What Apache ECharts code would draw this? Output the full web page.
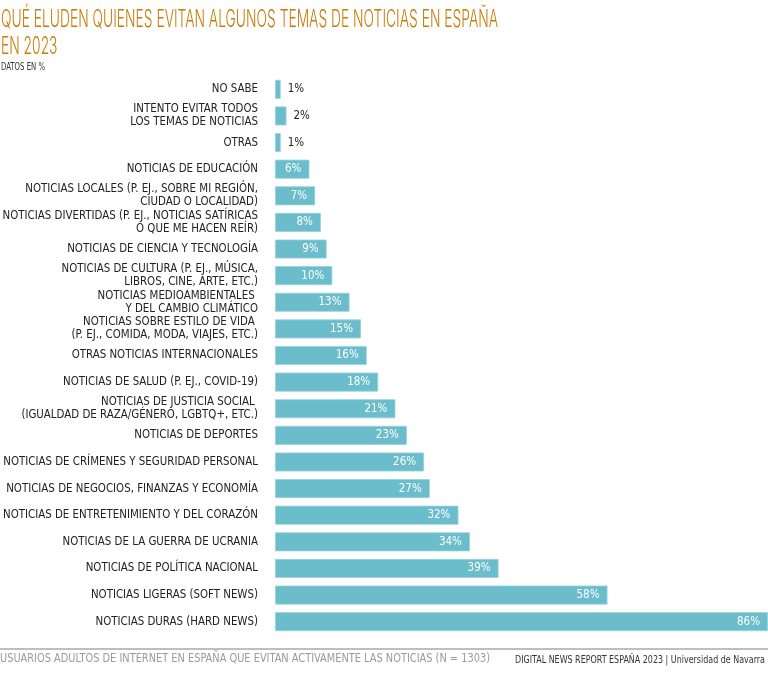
<!DOCTYPE html>
<html><head><meta charset="utf-8">
<script src="https://cdn.jsdelivr.net/npm/echarts@6/dist/echarts.min.js"></script>
<style>html,body{margin:0;padding:0;background:#fff}#c{width:768px;height:676px}</style>
</head><body><div id="c"></div>
<script>
var categories = [
  "NO SABE",
  "INTENTO EVITAR TODOS\nLOS TEMAS DE NOTICIAS",
  "OTRAS",
  "NOTICIAS DE EDUCACIÓN",
  "NOTICIAS LOCALES (P. EJ., SOBRE MI REGIÓN,\nCIUDAD O LOCALIDAD)",
  "NOTICIAS DIVERTIDAS (P. EJ., NOTICIAS SATÍRICAS\nO QUE ME HACEN REÍR)",
  "NOTICIAS DE CIENCIA Y TECNOLOGÍA",
  "NOTICIAS DE CULTURA (P. EJ., MÚSICA,\nLIBROS, CINE, ARTE, ETC.)",
  "NOTICIAS MEDIOAMBIENTALES \nY DEL CAMBIO CLIMÁTICO",
  "NOTICIAS SOBRE ESTILO DE VIDA \n(P. EJ., COMIDA, MODA, VIAJES, ETC.)",
  "OTRAS NOTICIAS INTERNACIONALES",
  "NOTICIAS DE SALUD (P. EJ., COVID-19)",
  "NOTICIAS DE JUSTICIA SOCIAL \n(IGUALDAD DE RAZA/GÉNERO, LGBTQ+, ETC.)",
  "NOTICIAS DE DEPORTES",
  "NOTICIAS DE CRÍMENES Y SEGURIDAD PERSONAL",
  "NOTICIAS DE NEGOCIOS, FINANZAS Y ECONOMÍA",
  "NOTICIAS DE ENTRETENIMIENTO Y DEL CORAZÓN",
  "NOTICIAS DE LA GUERRA DE UCRANIA",
  "NOTICIAS DE POLÍTICA NACIONAL",
  "NOTICIAS LIGERAS (SOFT NEWS)",
  "NOTICIAS DURAS (HARD NEWS)"
];
var values = [1, 2, 1, 6, 7, 8, 9, 10, 13, 15, 16, 18, 21, 23, 26, 27, 32, 34, 39, 58, 86];
var titleLine1 = "QUÉ ELUDEN QUIENES EVITAN ALGUNOS TEMAS DE NOTICIAS EN ESPAÑA";
var titleLine2 = "EN 2023";
var subtitle = "DATOS EN %";
var footLeft = "USUARIOS ADULTOS DE INTERNET EN ESPAÑA QUE EVITAN ACTIVAMENTE LAS NOTICIAS (N = 1303)";
var footRight = "DIGITAL NEWS REPORT ESPAÑA 2023 | Universidad de Navarra";
var insideThreshold = 5;

var FONT = "'DejaVu Sans Condensed', 'Open Sans', sans-serif";
var mctx = document.createElement('canvas').getContext('2d');
function fitScale(text, font, width) {
  mctx.font = font;
  return width / mctx.measureText(text).width;
}
var titleFont = "300 24px Inter, 'Open Sans', sans-serif";
var subFont = "11px " + FONT;
var footLFont = "12px " + FONT;
var footRFont = "10.5px " + FONT;
var sTitle = fitScale(titleLine1, titleFont, 497);
var sSub = fitScale(subtitle, subFont, 44);
var sFootL = fitScale(footLeft, footLFont, 490);
var sFootR = fitScale(footRight, footRFont, 250);

var chart = echarts.init(document.getElementById('c'), null, {renderer: 'canvas'});
chart.setOption({
  animation: false,
  grid: {left: 275, right: 0, top: 76, bottom: 41, containLabel: false, outerBoundsMode: 'none'},
  xAxis: {type: 'value', min: 0, max: 86, show: false},
  yAxis: {
    type: 'category', data: categories, inverse: true,
    axisLine: {show: false}, axisTick: {show: false},
    axisLabel: {color: '#222', fontFamily: FONT, fontSize: 11.4, lineHeight: 13, margin: 17, align: 'right'}
  },
  series: [{
    type: 'bar', barWidth: 19,
    data: values.map(function (v) {
      return v < insideThreshold
        ? {value: v, label: {position: 'right', distance: 7, color: '#222'}}
        : {value: v, label: {position: 'insideRight', distance: 8, color: '#fff'}};
    }),
    itemStyle: {color: '#6CBDCB', borderColor: '#9AD2DC', borderWidth: 0.8},
    label: {
      show: true,
      formatter: function (p) { return p.value + '%'; },
      fontFamily: FONT, fontSize: 11.5
    }
  }],
  graphic: [
    {type: 'text', x: 1, y: 6, scaleX: sTitle, originX: 0,
     style: {text: titleLine1 + "\n" + titleLine2, font: titleFont, fill: '#C97B07', lineHeight: 27, verticalAlign: 'top'}},
    {type: 'text', x: 1, y: 62, scaleX: sSub, originX: 0,
     style: {text: subtitle, font: subFont, fill: '#333', verticalAlign: 'top'}},
    {type: 'line', shape: {x1: 0, y1: 649, x2: 768, y2: 649}, style: {stroke: '#A8A8A8', lineWidth: 1.5}},
    {type: 'text', x: 0, y: 653, scaleX: sFootL, originX: 0,
     style: {text: footLeft, fill: '#9A9A9A', font: footLFont, verticalAlign: 'top'}},
    {type: 'text', x: 765, y: 655, scaleX: sFootR, originX: 0,
     style: {text: footRight, fill: '#333', font: footRFont, align: 'right', verticalAlign: 'top'}}
  ]
});
</script></body></html>
